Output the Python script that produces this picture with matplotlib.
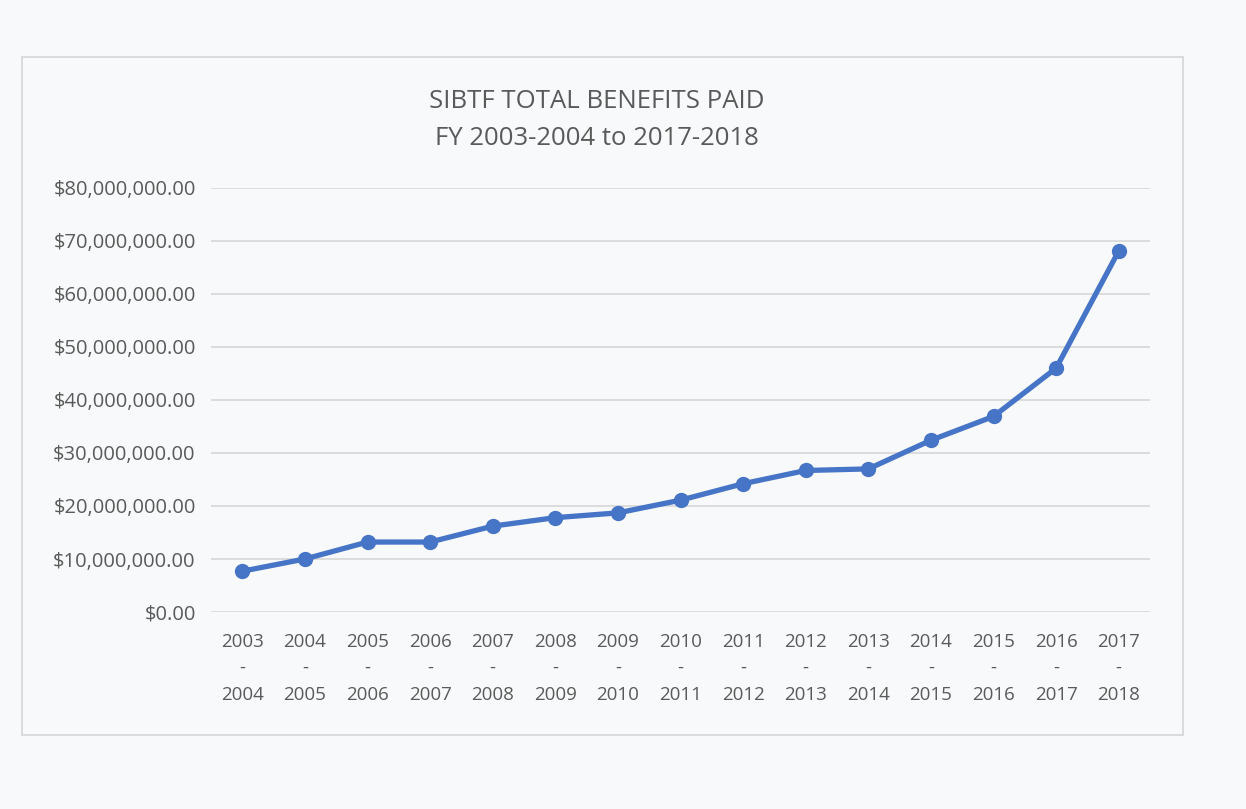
import matplotlib.pyplot as plt
from matplotlib.patches import Rectangle
from matplotlib.ticker import FuncFormatter

years = ["2003\n-\n2004", "2004\n-\n2005", "2005\n-\n2006", "2006\n-\n2007",
         "2007\n-\n2008", "2008\n-\n2009", "2009\n-\n2010", "2010\n-\n2011",
         "2011\n-\n2012", "2012\n-\n2013", "2013\n-\n2014", "2014\n-\n2015",
         "2015\n-\n2016", "2016\n-\n2017", "2017\n-\n2018"]
benefits = [7.7e6, 10.0e6, 13.2e6, 13.2e6, 16.2e6, 17.8e6, 18.7e6, 21.1e6,
            24.2e6, 26.7e6, 27.0e6, 32.4e6, 36.9e6, 46.0e6, 68.1e6]

plt.rcParams["font.family"] = ["Open Sans", "DejaVu Sans"]
txt = "#5a5a5a"

fig = plt.figure(figsize=(12.46, 8.09), dpi=100)
fig.patch.set_facecolor("#f8f9fa")

# chart frame
fig.patches.append(Rectangle((22 / 1246, 1 - 735 / 809), (1183 - 22) / 1246, (735 - 57) / 809,
                             transform=fig.transFigure, fill=False, edgecolor="#d6d6d6", linewidth=1.2))

ax = fig.add_axes([211 / 1246, 1 - 612 / 809, (1150 - 211) / 1246, (612 - 188) / 809])
ax.set_facecolor("none")

x = list(range(len(years)))
ax.plot(x, benefits, color="#4674c6", linewidth=3.8, marker="o", markersize=10, zorder=3)

ax.set_xlim(-0.5, len(years) - 0.5)
ax.set_ylim(0, 80e6)
ax.set_yticks([i * 10e6 for i in range(9)])
ax.yaxis.set_major_formatter(FuncFormatter(lambda v, p: "${:,.2f}".format(v)))
ax.set_xticks(x)
ax.set_xticklabels(years, linespacing=1.6)
ax.grid(axis="y", color="#d9d9d9", linewidth=1.3)
ax.set_axisbelow(True)
for s in ax.spines.values():
    s.set_visible(False)
ax.tick_params(length=0, colors=txt)
ax.tick_params(axis="y", pad=11, labelsize=14.5)
ax.tick_params(axis="x", pad=15, labelsize=13.5)

fig.text(597 / 1246, 1 - 120 / 809, "SIBTF TOTAL BENEFITS PAID\nFY 2003-2004 to 2017-2018",
         ha="center", va="center", fontsize=18.5, color=txt, linespacing=1.6)

fig.savefig("out.png", dpi=100, facecolor=fig.get_facecolor())
